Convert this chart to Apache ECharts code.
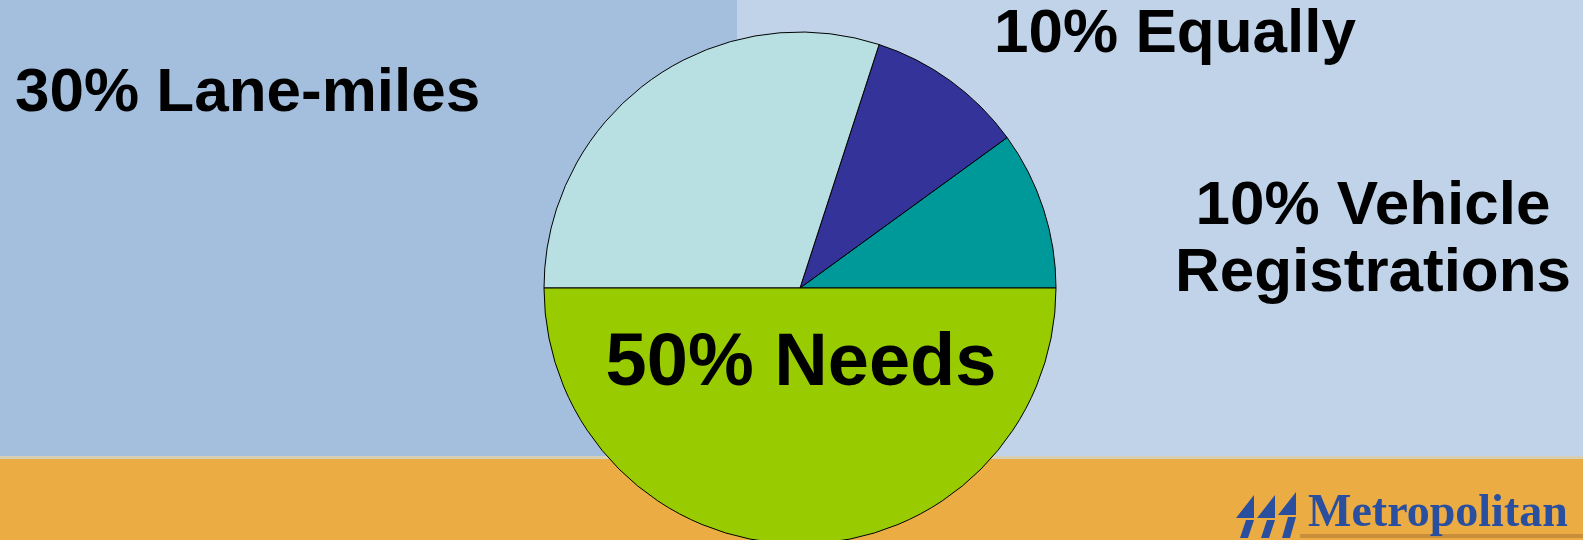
<!DOCTYPE html>
<html>
<head>
<meta charset="utf-8">
<script src="https://cdn.jsdelivr.net/npm/echarts@6/dist/echarts.min.js"></script>
<style>
html,body{margin:0;padding:0;background:#c1d3e9;}
#chart{width:1583px;height:540px;}
</style>
</head>
<body>
<div id="chart"></div>
<script>
// Data
const categories = ['Vehicle\nRegistrations', 'Equally', 'Lane-miles', 'Needs'];
const shares = [10, 10, 30, 50];
const sliceColors = ['#009999', '#333399', '#b8e0e3', '#99cc00'];

// label anchor positions (px) and font sizes
const labelPos = [
  {x: 1373, y: 240, align: 'center'},
  {x: 1175, y: 35, align: 'center'},
  {x: 15, y: 94, align: 'left'},
  {x: 801, y: 365, align: 'center'}
];
const labelSizes = [62, 62, 62, 74];

const chart = echarts.init(document.getElementById('chart'), null, {renderer: 'canvas'});

const data = categories.map((c, i) => ({
  name: c,
  value: shares[i],
  itemStyle: {color: sliceColors[i]},
  label: {fontSize: labelSizes[i], lineHeight: 67}
}));

// logo icon shapes
const iconShapes = [];
[1236, 1257, 1278].forEach((ox, i) => {
  const dy = i === 2 ? -3 : 0;
  iconShapes.push({type: 'polygon', z: -8, silent: true,
    shape: {points: [[ox + 18, 495 + dy], [ox + 18, 518 + dy], [ox, 518 + dy]]},
    style: {fill: '#2a4f9e'}});
  iconShapes.push({type: 'polygon', z: -8, silent: true,
    shape: {points: [[ox + 10, 520 + dy], [ox + 18, 520 + dy], [ox + 12, 538], [ox + 4, 538]]},
    style: {fill: '#2a4f9e'}});
});

chart.setOption({
  animation: false,
  graphic: [
    {type: 'rect', z: -10, shape: {x: 0, y: 0, width: 737, height: 458}, style: {fill: '#a3bfdd'}, silent: true},
    {type: 'rect', z: -10, shape: {x: 737, y: 0, width: 846, height: 458}, style: {fill: '#c1d3e9'}, silent: true},
    {type: 'rect', z: -10, shape: {x: 0, y: 456, width: 1583, height: 3}, style: {fill: '#d6cfb4'}, silent: true},
    {type: 'rect', z: -10, shape: {x: 0, y: 459, width: 1583, height: 81}, style: {fill: '#ecac44'}, silent: true},
    {type: 'rect', z: -9, shape: {x: 1300, y: 534, width: 283, height: 4}, style: {fill: '#c98e3a'}, silent: true}
  ].concat(iconShapes).concat([
    {type: 'text', z: -7, silent: true,
      style: {text: 'Metropolitan', x: 1308, y: 514, fill: '#2a4f9e',
        font: 'bold 46px "Liberation Serif", serif', align: 'left', verticalAlign: 'middle'}}
  ]),
  series: [{
    type: 'pie',
    center: [800, 288],
    radius: 256,
    startAngle: 0,
    clockwise: false,
    silent: true,
    itemStyle: {borderColor: '#000', borderWidth: 1},
    label: {
      show: true,
      position: 'outside',
      formatter: '{c}% {b}',
      color: '#000',
      fontFamily: '"Liberation Sans", Arial, sans-serif',
      fontWeight: 'bold'
    },
    labelLine: {show: false},
    labelLayout: function (params) {
      const p = labelPos[params.dataIndex];
      return {x: p.x, y: p.y, align: p.align, verticalAlign: 'middle', moveOverlap: null, hideOverlap: false};
    },
    data: data
  }]
});
</script>
</body>
</html>
